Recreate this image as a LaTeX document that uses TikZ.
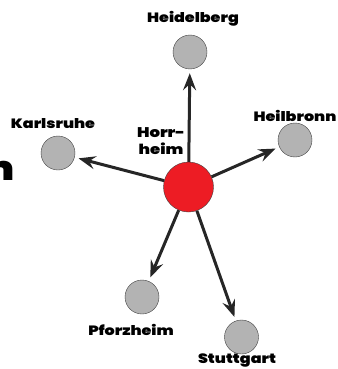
\documentclass[tikz,border=0pt]{standalone}
\usepackage{fontspec}
\setmainfont{Poppins}[BoldFont={Poppins Black},BoldFeatures={FakeStretch=1.18}]
\usepackage{tikz}
\usetikzlibrary{arrows.meta,positioning}
\definecolor{hubred}{HTML}{ED1C24}
\definecolor{citygray}{HTML}{B3B3B3}

\begin{document}
\begin{tikzpicture}[x=1pt,y=-1pt]
	\useasboundingbox (0,0) rectangle (337,369);
	\begin{scope}[every node/.style={circle,draw=black!75,thin,fill=citygray,minimum size=34pt,inner sep=0pt}]
		\node[fill=hubred,minimum size=50pt] (hub) at (188.5,187) {};
		\node (heidelberg) at (190,52) {};
		\node (heilbronn) at (295,140) {};
		\node (karlsruhe) at (58,153) {};
		\node (pforzheim) at (142,297) {};
		\node (stuttgart) at (241.5,337) {};
	\end{scope}

	\begin{scope}[every node/.style={font=\bfseries\fontsize{13.5}{15}\selectfont,inner sep=0pt}]
		\node (Lheidelberg) at (193,19) {Heidelberg};
		\node (Lheilbronn) at (295,116) {Heilbronn};
		\node (Lkarlsruhe) at (53,124) {Karlsruhe};
		\node (Lpforzheim) at (131,330) {Pforzheim};
		\node (Lstuttgart) at (237,361) {Stuttgart};
		\node[align=center,font=\bfseries\fontsize{14}{17}\selectfont] (Lhorrheim) at (161,141) {Horr-\\heim};
		\node[anchor=base east,font=\bfseries\fontsize{34}{40}\selectfont] (Ltitle) at (15,180) {m};
	\end{scope}

	\begin{scope}[line width=3pt,draw=black!85,shorten >=4pt]
	\draw[-{Stealth[length=17pt,width=13pt,inset=6pt]}] (hub) -- (heidelberg);
	\draw[-{Stealth[length=17pt,width=13pt,inset=6pt]}] (hub) -- (heilbronn);
	\draw[-{Stealth[length=17pt,width=13pt,inset=6pt]}] (hub) -- (karlsruhe);
	\draw[-{Stealth[length=17pt,width=13pt,inset=6pt]}] (hub) -- (pforzheim);
	\draw[-{Stealth[length=17pt,width=13pt,inset=6pt]}] (hub) -- (stuttgart);
	\end{scope}
\end{tikzpicture}
\end{document}
